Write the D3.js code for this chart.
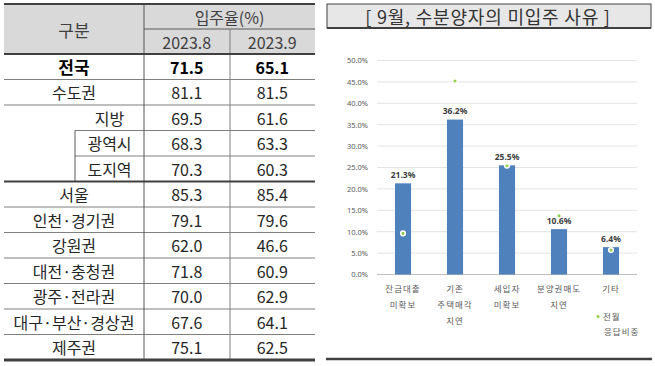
<!DOCTYPE html>
<html>
<head>
<meta charset="utf-8">
<script src="https://cdn.jsdelivr.net/npm/d3@7"></script>
<style>
  body { margin: 0; background: #fff; }
  svg { display: block; font-family: "Noto Sans CJK KR", "Noto Sans", sans-serif; }
</style>
</head>
<body>
<svg width="655" height="366"></svg>
<script>
// table data
var regions = ["전국", "수도권", "지방", "광역시", "도지역", "서울", "인천·경기권", "강원권", "대전·충청권", "광주·전라권", "대구·부산·경상권", "제주권"];
var periods = ["2023.8", "2023.9"];
var rateAug = [71.5, 81.1, 69.5, 68.3, 70.3, 85.3, 79.1, 62.0, 71.8, 70.0, 67.6, 75.1];
var rateSep = [65.1, 81.5, 61.6, 63.3, 60.3, 85.4, 79.6, 46.6, 60.9, 62.9, 64.1, 62.5];

// chart data
var reasons = [["잔금대출", "미확보"], ["기존", "주택매각", "지연"], ["세입자", "미확보"], ["분양권매도", "지연"], ["기타"]];
var thisMonth = [21.3, 36.2, 25.5, 10.6, 6.4];
var prevMonth = [9.6, 45.2, 25.4, 13.7, 5.7];
var yTicks = [0, 5, 10, 15, 20, 25, 30, 35, 40, 45, 50];

var svg = d3.select("svg");

// ---------- table ----------
var tLeft = 4, tRight = 315, col1 = 144, col2 = 230, subX = 75;
var rowY = d3.scaleBand().domain(regions).range([54, 360]);
var colX = d3.scaleBand().domain(periods).range([col1, tRight]);
var indented = ["지방", "광역시", "도지역"];
var subRows = ["광역시", "도지역"];

var tbl = svg.append("g");

tbl.append("rect")
    .attr("x", tLeft).attr("y", 4)
    .attr("width", tRight - tLeft).attr("height", 50)
    .attr("fill", "#d9d9d9");

tbl.append("text")
    .attr("x", (tLeft + col1) / 2).attr("y", 29)
    .attr("text-anchor", "middle").attr("dominant-baseline", "central")
    .attr("font-size", 17).attr("fill", "#404040")
    .text("구분");
tbl.append("text")
    .attr("x", (col1 + tRight) / 2).attr("y", 16.5)
    .attr("text-anchor", "middle").attr("dominant-baseline", "central")
    .attr("font-size", 16).attr("fill", "#404040")
    .text("입주율(%)");
tbl.selectAll(".period")
    .data(periods)
    .enter().append("text")
    .attr("x", function(d) { return colX(d) + colX.bandwidth() / 2; })
    .attr("y", 41.5)
    .attr("text-anchor", "middle").attr("dominant-baseline", "central")
    .attr("font-size", 16).attr("fill", "#404040")
    .text(function(d) { return d; });

// thin lines
tbl.append("line").attr("x1", col1).attr("x2", tRight).attr("y1", 29).attr("y2", 29)
    .attr("stroke", "#595959").attr("stroke-width", 1);
regions.forEach(function(r, i) {
    if (i == 0 || r == "서울") return;
    var x1 = subRows.indexOf(r) >= 0 ? subX : tLeft;
    tbl.append("line")
        .attr("x1", x1).attr("x2", tRight)
        .attr("y1", rowY(r)).attr("y2", rowY(r))
        .attr("stroke", "#7f7f7f").attr("stroke-width", 1);
});
tbl.append("line").attr("x1", subX).attr("x2", subX)
    .attr("y1", rowY("광역시")).attr("y2", rowY("서울"))
    .attr("stroke", "#595959");
tbl.append("line").attr("x1", col1).attr("x2", col1).attr("y1", 4).attr("y2", 360)
    .attr("stroke", "#595959");
tbl.append("line").attr("x1", col2).attr("x2", col2).attr("y1", 29).attr("y2", 360)
    .attr("stroke", "#7f7f7f");

// thick lines
[4, 54, rowY("서울")].forEach(function(y) {
    tbl.append("line").attr("x1", tLeft).attr("x2", tRight).attr("y1", y).attr("y2", y)
        .attr("stroke", "#404040").attr("stroke-width", 2);
});
tbl.append("line").attr("x1", tLeft).attr("x2", tRight).attr("y1", 360).attr("y2", 360)
    .attr("stroke", "#404040").attr("stroke-width", 3);

var rows = tbl.selectAll(".row")
    .data(regions)
    .enter().append("g")
    .attr("transform", function(d) { return "translate(0," + (rowY(d) + rowY.bandwidth() / 2) + ")"; });

rows.append("text")
    .attr("x", function(d) { return indented.indexOf(d) >= 0 ? (subX + col1) / 2 : (tLeft + col1) / 2; })
    .attr("text-anchor", "middle").attr("dominant-baseline", "central")
    .attr("font-size", function(d, i) { return i == 0 ? 17 : 16; })
    .attr("font-weight", function(d, i) { return i == 0 ? "bold" : "normal"; })
    .attr("fill", function(d, i) { return i == 0 ? "#000" : "#262626"; })
    .text(function(d) { return d; });

rows.each(function(d, i) {
    var g = d3.select(this);
    [rateAug[i], rateSep[i]].forEach(function(v, j) {
        g.append("text")
            .attr("x", colX(periods[j]) + colX.bandwidth() / 2)
            .attr("text-anchor", "middle").attr("dominant-baseline", "central")
            .attr("font-size", 16)
            .attr("font-weight", i == 0 ? "bold" : "normal")
            .attr("fill", i == 0 ? "#000" : "#262626")
            .text(v.toFixed(1));
    });
});

// ---------- chart ----------
var ch = svg.append("g");

ch.append("rect")
    .attr("x", 327).attr("y", 4).attr("width", 324).attr("height", 24)
    .attr("fill", "#e7e7e7").attr("stroke", "#404040").attr("stroke-width", 1);
ch.append("line").attr("x1", 327).attr("x2", 651).attr("y1", 28).attr("y2", 28)
    .attr("stroke", "#404040").attr("stroke-width", 2);
ch.append("text")
    .attr("x", 488).attr("y", 16)
    .attr("text-anchor", "middle").attr("dominant-baseline", "central")
    .attr("font-size", 18).attr("letter-spacing", 0.8).attr("fill", "#333")
    .text("[ 9월, 수분양자의 미입주 사유 ]");

ch.append("line").attr("x1", 326).attr("x2", 652).attr("y1", 359).attr("y2", 359)
    .attr("stroke", "#404040").attr("stroke-width", 2.5);

var x = d3.scaleBand()
    .domain(d3.range(reasons.length))
    .range([377, 637])
    .paddingInner(0.69)
    .paddingOuter(0.345);
var y = d3.scaleLinear().domain([0, 50]).range([274.5, 60.5]);

ch.append("g")
    .selectAll("line")
    .data(yTicks)
    .enter().append("line")
    .attr("x1", 377).attr("x2", 637)
    .attr("y1", function(d) { return y(d); }).attr("y2", function(d) { return y(d); })
    .attr("stroke", function(d) { return d == 0 ? "#bfbfbf" : "#e3e3e3"; })
    .attr("stroke-width", 1);

var yAxis = d3.axisLeft(y)
    .tickValues(yTicks)
    .tickSize(0)
    .tickPadding(0)
    .tickFormat(function(d) { return d.toFixed(1) + "%"; });
var ya = ch.append("g").attr("transform", "translate(368,0)").call(yAxis);
ya.select(".domain").remove();
ya.selectAll("text")
    .attr("font-family", "'Noto Sans', sans-serif")
    .attr("font-size", 7.5).attr("fill", "#595959");

ch.selectAll(".bar")
    .data(thisMonth)
    .enter().append("rect")
    .attr("x", function(d, i) { return x(i); })
    .attr("width", x.bandwidth())
    .attr("y", function(d) { return y(d); })
    .attr("height", function(d) { return y(0) - y(d); })
    .attr("fill", "#4f81bd");

ch.selectAll(".dot")
    .data(prevMonth)
    .enter().append("circle")
    .attr("cx", function(d, i) { return x(i) + x.bandwidth() / 2; })
    .attr("cy", function(d) { return y(d); })
    .attr("r", 2.3)
    .attr("fill", "#92d050")
    .attr("stroke", "#fff").attr("stroke-width", 1.5);

ch.selectAll(".lbl")
    .data(thisMonth)
    .enter().append("text")
    .attr("x", function(d, i) { return x(i) + x.bandwidth() / 2; })
    .attr("y", function(d) { return y(d) - 9; })
    .attr("text-anchor", "middle").attr("dominant-baseline", "central")
    .attr("font-family", "'Noto Sans', sans-serif")
    .attr("font-size", 8.5).attr("font-weight", "bold").attr("fill", "#404040")
    .text(function(d) { return d.toFixed(1) + "%"; });

var xl = ch.selectAll(".xl")
    .data(reasons)
    .enter().append("text")
    .attr("text-anchor", "middle")
    .attr("font-size", 8.5).attr("letter-spacing", 1).attr("fill", "#595959");
xl.selectAll("tspan")
    .data(function(d, i) { return d.map(function(t) { return { t: t, i: i }; }); })
    .enter().append("tspan")
    .attr("x", function(d) { return x(d.i) + x.bandwidth() / 2; })
    .attr("y", function(d, k) { return 292 + k * 16; })
    .text(function(d) { return d.t; });

// legend
var lg = ch.append("g");
lg.append("circle").attr("cx", 598).attr("cy", 316.5).attr("r", 1.6).attr("fill", "#92d050");
lg.append("text").attr("x", 603).attr("y", 319.5)
    .attr("font-size", 8.5).attr("letter-spacing", 1).attr("fill", "#595959").text("전월");
lg.append("text").attr("x", 604).attr("y", 334.5)
    .attr("font-size", 8.5).attr("letter-spacing", 1).attr("fill", "#595959").text("응답비중");
</script>
</body>
</html>
